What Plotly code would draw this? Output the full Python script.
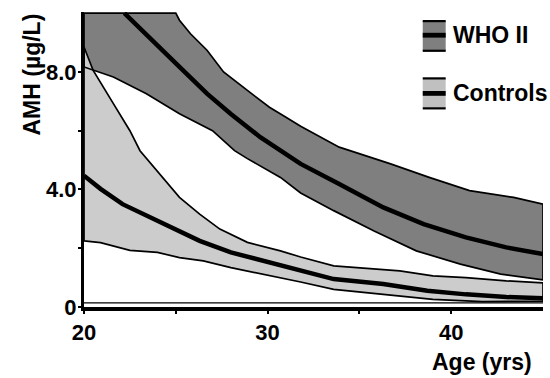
import plotly.graph_objects as go

# ---- data (age in years, AMH in ug/L) ----
who_upper_x = [20, 25.0, 25.2, 25.8, 26.7, 27.6, 28.9, 30.1, 31.0, 31.8, 33.9, 36.7, 38.8, 41.0, 43.4, 45]
who_upper_y = [10, 10, 9.76, 9.3, 8.74, 8.0, 7.37, 6.8, 6.46, 6.15, 5.44, 4.87, 4.41, 3.96, 3.73, 3.5]

who_median_x = [22.2, 23.4, 25.2, 26.7, 28.0, 29.6, 31.2, 31.8, 33.9, 36.3, 38.5, 40.8, 43.0, 45]
who_median_y = [10, 9.25, 8.17, 7.26, 6.57, 5.78, 5.1, 4.87, 4.19, 3.39, 2.82, 2.37, 2.03, 1.8]

who_lower_x = [20, 21.6, 23.4, 25.2, 27.0, 28.2, 28.9, 30.7, 31.8, 33.6, 35.8, 38.1, 40.5, 42.7, 45]
who_lower_y = [8.17, 7.83, 7.26, 6.58, 6.0, 5.32, 5.05, 4.41, 3.88, 3.28, 2.59, 1.91, 1.46, 1.12, 0.92]

ctl_upper_x = [20, 20.5, 21.6, 22.5, 23.05, 24.1, 25.2, 26.3, 27.4, 28.9, 30.7, 31.8, 33.6, 37.2, 39.0, 40.8, 43.0, 45]
ctl_upper_y = [8.85, 8.05, 6.92, 6.0, 5.32, 4.53, 3.73, 3.16, 2.65, 2.2, 1.91, 1.7, 1.40, 1.23, 1.06, 1.0, 0.89, 0.82]

ctl_median_x = [20, 20.9, 22.1, 23.4, 24.9, 26.3, 28.0, 29.8, 32.0, 33.6, 36.3, 38.7, 40.8, 43.0, 45]
ctl_median_y = [4.47, 4.02, 3.5, 3.1, 2.65, 2.25, 1.86, 1.57, 1.2, 0.95, 0.78, 0.55, 0.43, 0.34, 0.3]

ctl_lower_x = [20, 20.9, 22.5, 24.0, 25.2, 26.5, 28.0, 29.4, 31.0, 31.8, 33.6, 36.3, 39.0, 41.7, 45]
ctl_lower_y = [2.25, 2.19, 1.93, 1.86, 1.68, 1.57, 1.34, 1.17, 0.95, 0.85, 0.6, 0.43, 0.26, 0.18, 0.2]

floor_x = [20, 45]
floor_y = [0.14, 0.14]

x_tickvals = [20, 25, 30, 35, 40]
x_ticktext = ["20", "", "30", "", "40"]
y_tickvals = [0, 2, 4, 6, 8]
y_ticktext = ["0", "", "4.0", "", "8.0"]

series_names = ["WHO II", "Controls"]

DARK = "#7f7f7f"
LIGHT = "#cccccc"
FONT = "Liberation Sans, Arial, sans-serif"


def band(ux, uy, lx, ly):
    return ux + lx[::-1], uy + ly[::-1]


fig = go.Figure()

wx, wy = band(who_upper_x, who_upper_y, who_lower_x, who_lower_y)
cx, cy = band(ctl_upper_x, ctl_upper_y, ctl_lower_x, ctl_lower_y)

# fills
fig.add_trace(go.Scatter(x=wx, y=wy, fill="toself", fillcolor=DARK, mode="lines",
                         line=dict(width=0), hoverinfo="skip"))
fig.add_trace(go.Scatter(x=cx, y=cy, fill="toself", fillcolor=LIGHT, mode="lines",
                         line=dict(width=0), hoverinfo="skip"))
# outlines
fig.add_trace(go.Scatter(x=wx + [wx[0]], y=wy + [wy[0]], mode="lines",
                         line=dict(color="black", width=1.7), hoverinfo="skip"))
fig.add_trace(go.Scatter(x=cx + [cx[0]], y=cy + [cy[0]], mode="lines",
                         line=dict(color="black", width=1.7), hoverinfo="skip"))
# medians
fig.add_trace(go.Scatter(x=who_median_x, y=who_median_y, mode="lines",
                         line=dict(color="black", width=4.5), hoverinfo="skip"))
fig.add_trace(go.Scatter(x=ctl_median_x, y=ctl_median_y, mode="lines",
                         line=dict(color="black", width=4.5), hoverinfo="skip"))
fig.add_trace(go.Scatter(x=floor_x, y=floor_y, mode="lines",
                         line=dict(color="black", width=1.4), hoverinfo="skip"))

# legend (hand drawn inside plot)
legend_items = [(series_names[0], DARK, 9.73, 9.25, 8.72),
                (series_names[1], "#c0c0c0", 7.78, 7.27, 6.76)]
lx0, lx1 = 38.45, 39.7
for name, col, ytop, ymid, ybot in legend_items:
    fig.add_shape(type="rect", x0=lx0, x1=lx1, y0=ybot, y1=ytop, xref="x", yref="y",
                  fillcolor=col, line=dict(width=0))
    for yy, w in [(ytop, 2.2), (ymid, 4.8), (ybot, 2.2)]:
        fig.add_shape(type="line", x0=lx0, x1=lx1, y0=yy, y1=yy, xref="x", yref="y",
                      line=dict(color="black", width=w))
    fig.add_annotation(x=40.0, y=ymid, xref="x", yref="y", text=name, showarrow=False,
                       xanchor="left", yanchor="middle",
                       font=dict(family=FONT, size=23, color="black", weight="bold"))

fig.add_annotation(x=(534 - 84) / 459, y=(307 - 362) / 295, xref="paper", yref="paper",
                   text="Age (yrs)", showarrow=False, xanchor="right", yanchor="middle",
                   font=dict(family=FONT, size=23, color="black", weight="bold"))
fig.add_annotation(x=(31 - 84) / 459, y=(307 - 74.5) / 295, xref="paper", yref="paper",
                   text="AMH (µg/L)", textangle=-90, showarrow=False,
                   xanchor="center", yanchor="middle",
                   font=dict(family=FONT, size=23, color="black", weight="bold"))

fig.update_layout(
    width=550, height=378,
    margin=dict(l=84, r=7, t=12, b=71),
    paper_bgcolor="white", plot_bgcolor="white",
    showlegend=False,
    font=dict(family=FONT, size=22, color="black", weight="bold"),
)
fig.update_xaxes(range=[20, 45], tickvals=x_tickvals, ticktext=x_ticktext,
                 showgrid=False, zeroline=False, showline=True, linecolor="black",
                 linewidth=4, ticks="outside", ticklen=3, tickwidth=2, tickcolor="black",
                 tickfont=dict(family=FONT, size=22, color="black", weight="bold"))
fig.update_yaxes(range=[0, 10.04], tickvals=y_tickvals, ticktext=y_ticktext,
                 showgrid=False, zeroline=False, showline=True, linecolor="black",
                 linewidth=3, ticks="outside", ticklen=3, tickwidth=2, tickcolor="black",
                 ticklabelstandoff=-3,
                 tickfont=dict(family=FONT, size=22, color="black", weight="bold"))

fig.write_html("out.html")
